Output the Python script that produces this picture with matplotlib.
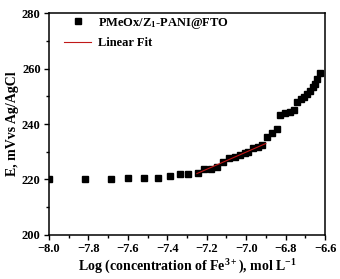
import numpy as np
import matplotlib
matplotlib.use("Agg")
import matplotlib.pyplot as plt
from matplotlib.ticker import MultipleLocator

plt.rcParams['font.family'] = ['Liberation Serif', 'DejaVu Serif']
plt.rcParams['font.weight'] = 'bold'
plt.rcParams['mathtext.fontset'] = 'custom'
plt.rcParams['mathtext.rm'] = 'Liberation Serif:bold'
plt.rcParams['mathtext.it'] = 'Liberation Serif:bold'
plt.rcParams['mathtext.bf'] = 'Liberation Serif:bold'

# data
log_conc = [-8.0, -7.817, -7.687, -7.598, -7.516, -7.445, -7.386, -7.335, -7.293,
            -7.246, -7.214, -7.178, -7.146, -7.116, -7.085, -7.056, -7.031, -7.006,
            -6.989, -6.963, -6.938, -6.921, -6.893, -6.870, -6.845, -6.828, -6.803,
            -6.778, -6.757, -6.740, -6.723, -6.706, -6.690, -6.676, -6.662, -6.651,
            -6.639, -6.625]
potential = [220.0, 220.0, 220.2, 220.7, 220.5, 220.5, 221.2, 221.8, 222.0,
             222.5, 223.7, 223.9, 224.6, 226.4, 227.6, 228.2, 228.9, 229.4,
             230.0, 231.4, 231.8, 232.4, 235.4, 236.6, 238.2, 243.2, 243.8,
             244.4, 245.0, 248.0, 249.0, 249.8, 250.8, 252.0, 253.2, 254.6,
             256.1, 258.3]
fit_range = (-7.25, -6.90)

x = np.array(log_conc)
y = np.array(potential)
sel = (x >= fit_range[0]) & (x <= fit_range[1])
slope, icpt = np.polyfit(x[sel], y[sel], 1)
xf = np.array(fit_range)

fig = plt.figure(figsize=(3.4, 2.79), dpi=100)
ax = fig.add_axes([0.144, 0.158, 0.812, 0.795])

ax.plot(x, y, 's', color='black', ms=3.8, label='PMeOx/Z$_1$-PANI@FTO')
ax.plot(xf, slope * xf + icpt, '-', color='#c01818', lw=0.8, label='Linear Fit')

ax.set_xlim(-8.0, -6.6)
ax.set_ylim(200, 280)
ax.xaxis.set_major_locator(MultipleLocator(0.2))
ax.xaxis.set_minor_locator(MultipleLocator(0.1))
ax.yaxis.set_major_locator(MultipleLocator(20))
ax.yaxis.set_minor_locator(MultipleLocator(10))
ax.tick_params(which='both', direction='out', labelsize=9, width=1, pad=2.5)
ax.tick_params(which='major', length=3.5)
ax.tick_params(which='minor', length=2)
for lbl in ax.get_xticklabels() + ax.get_yticklabels():
    lbl.set_fontweight('bold')
for s in ax.spines.values():
    s.set_linewidth(1.1)

ax.set_xlabel('Log (concentration of Fe$^{3+}$), mol L$^{-1}$', fontsize=10, fontweight='bold', labelpad=2)
ax.set_ylabel('E, mVvs Ag/AgCl', fontsize=10, fontweight='bold', labelpad=2)

ax.legend(loc='upper left', bbox_to_anchor=(0.022, 1.027), frameon=False,
          handlelength=2.2, handletextpad=0.5, borderaxespad=0.4, borderpad=0.3,
          labelspacing=0.5, prop={'weight': 'bold', 'size': 9})

fig.savefig('out.png', dpi=100)
